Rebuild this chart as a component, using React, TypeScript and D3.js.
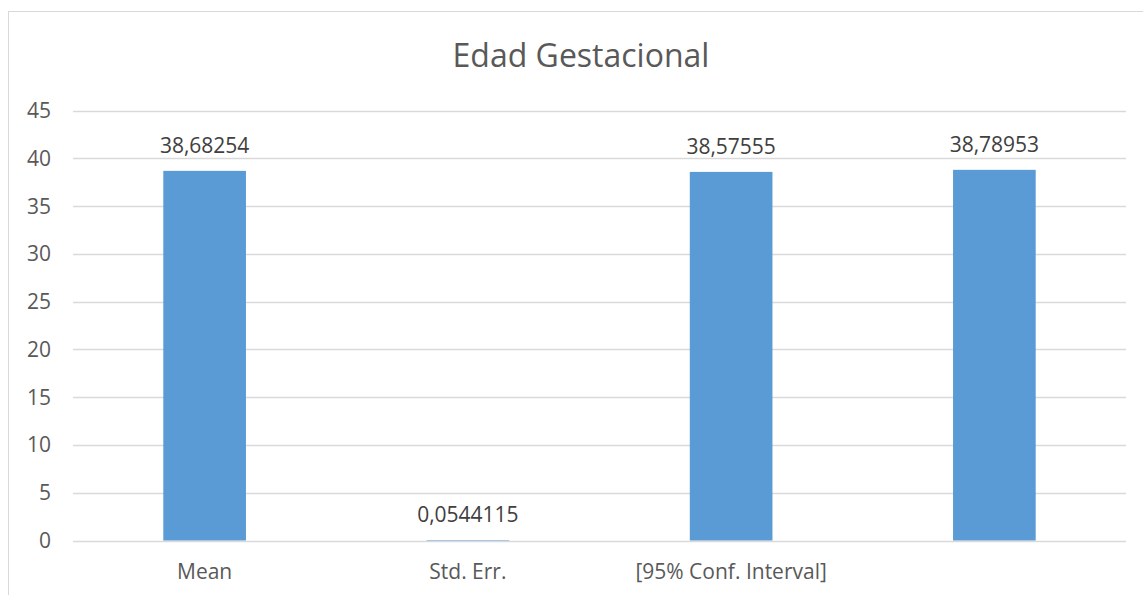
import React, { useEffect, useRef } from 'react';
import * as d3 from 'd3';

const categories = ['Mean', 'Std. Err.', '[95% Conf. Interval]', ''];
const values = [38.68254, 0.0544115, 38.57555, 38.78953];
const valueLabels = ['38,68254', '0,0544115', '38,57555', '38,78953'];
const yTicks = [0, 5, 10, 15, 20, 25, 30, 35, 40, 45];
const title = 'Edad Gestacional';

const App: React.FC = () => {
  const svgRef = useRef<SVGSVGElement>(null);

  useEffect(() => {
    if (!svgRef.current) return;
    const svg = d3.select(svgRef.current);
    svg.selectAll('*').remove();

    const font = "'Open Sans', sans-serif";
    const textColor = '#595959';
    const gridColor = '#d9d9d9';

    // Chart frame (cropped at right and bottom)
    svg.append('rect')
      .attr('x', 8.5)
      .attr('y', 11.5)
      .attr('width', 1300)
      .attr('height', 800)
      .attr('fill', '#fff')
      .attr('stroke', gridColor)
      .attr('stroke-width', 1);

    const plot = { left: 73, right: 1126, top: 110.5, bottom: 540.5 };

    const x = d3.scaleBand<number>()
      .domain(categories.map((_, i) => i))
      .range([plot.left, plot.right])
      .paddingInner(0.686)
      .paddingOuter(0.343);

    const y = d3.scaleLinear()
      .domain([0, 45])
      .range([plot.bottom, plot.top]);

    // Title
    svg.append('text')
      .attr('x', 581)
      .attr('y', 67)
      .attr('text-anchor', 'middle')
      .style('font-family', font)
      .style('font-size', '32px')
      .attr('fill', textColor)
      .text(title);

    // Grid lines
    svg.append('g')
      .selectAll('line')
      .data(yTicks)
      .enter()
      .append('line')
      .attr('x1', plot.left)
      .attr('x2', plot.right)
      .attr('y1', d => Math.round(y(d)) + 0.5)
      .attr('y2', d => Math.round(y(d)) + 0.5)
      .attr('stroke', gridColor)
      .attr('stroke-width', 1.3);

    // Y tick labels
    svg.append('g')
      .selectAll('text')
      .data(yTicks)
      .enter()
      .append('text')
      .attr('x', 51)
      .attr('y', d => y(d) + 7.5)
      .attr('text-anchor', 'end')
      .style('font-family', font)
      .style('font-size', '21px')
      .attr('fill', textColor)
      .text(d => String(d));

    // Bars
    svg.append('g')
      .selectAll('rect')
      .data(values)
      .enter()
      .append('rect')
      .attr('x', (_, i) => x(i) as number)
      .attr('width', x.bandwidth())
      .attr('y', d => y(d))
      .attr('height', d => plot.bottom - y(d))
      .attr('fill', '#5b9bd5');

    // Value labels
    svg.append('g')
      .selectAll('text')
      .data(values)
      .enter()
      .append('text')
      .attr('x', (_, i) => (x(i) as number) + x.bandwidth() / 2)
      .attr('y', d => y(d) - 18)
      .attr('text-anchor', 'middle')
      .style('font-family', font)
      .style('font-size', '21px')
      .attr('fill', '#404040')
      .text((_, i) => valueLabels[i]);

    // Category labels
    svg.append('g')
      .selectAll('text')
      .data(categories)
      .enter()
      .append('text')
      .attr('x', (_, i) => (x(i) as number) + x.bandwidth() / 2)
      .attr('y', 579)
      .attr('text-anchor', 'middle')
      .style('font-family', font)
      .style('font-size', '21px')
      .attr('fill', textColor)
      .text(d => d);
  }, []);

  return (
    <svg
      ref={svgRef}
      width={1143}
      height={595}
      style={{ position: 'absolute', left: 0, top: 0, background: '#fff' }}
    />
  );
};

export default App;
